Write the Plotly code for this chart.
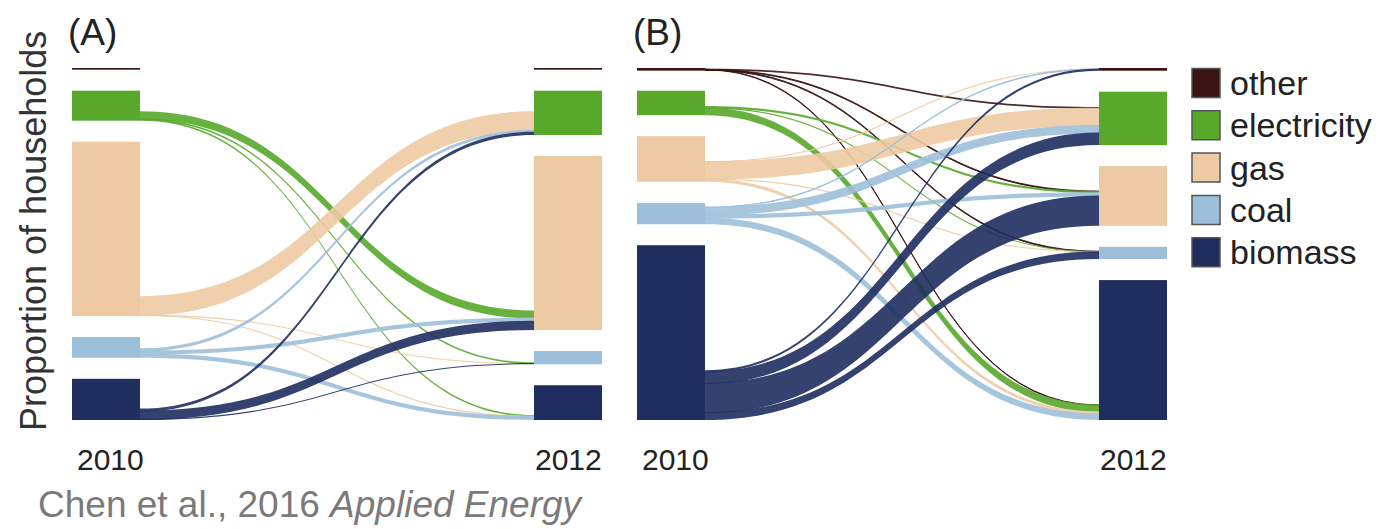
import plotly.graph_objects as go

fuels = ["other", "electricity", "gas", "coal", "biomass"]
colors = ["#3b1414", "#58a82c", "#edcaa3", "#9dc0da", "#1f2d5f"]
years = ["2010", "2012"]
panels = ["(A)", "(B)"]

# share of households (%) moving from the 2010 fuel (row) to the 2012 fuel (column)
flows_a = [
    [0.6, 0.0, 0.0, 0.0, 0.0],
    [0.0, 7.7, 2.9, 0.6, 0.6],
    [0.0, 7.0, 55.6, 0.4, 0.4],
    [0.0, 1.1, 1.5, 4.4, 1.5],
    [0.0, 1.1, 3.3, 0.4, 11.0],
]
flows_b = [
    [0.6, 0.6, 0.3, 0.3, 0.2],
    [0.0, 5.7, 0.8, 0.4, 2.7],
    [0.4, 6.4, 9.1, 0.4, 1.1],
    [0.2, 3.0, 1.5, 1.9, 2.3],
    [0.8, 4.4, 10.6, 2.7, 44.1],
]

W, H = 1397, 529
FONT = "Liberation Sans, Arial, sans-serif"
PLOT_TOP, PLOT_BOT = 68, 420
PANEL_W = 530
THICK = 68
GAP = 21
OVERLAP = 1.0  # px, hides hairline seams between pieces of one bar


def rgba(hex_col, a):
    h = hex_col.lstrip("#")
    r, g, b = int(h[0:2], 16), int(h[2:4], 16), int(h[4:6], 16)
    return f"rgba({r},{g},{b},{a})"


def make_sankey(flows, left_px):
    n = len(fuels)
    links = [(i, j) for i in range(n) for j in range(n) if flows[i][j] > 0]
    L = len(links)
    hpx = PLOT_BOT - PLOT_TOP
    total = sum(flows[a][b] for a, b in links)

    groups = []
    for side in (0, 1):
        g = []
        for f in range(n):
            mine = [lk for lk in links if lk[side] == f]
            # households keeping the fuel on top, then the switchers
            mine.sort(key=lambda lk: (lk[0] != lk[1], lk[1 - side]))
            g.append(mine)
        groups.append(g)
    seams = min(sum(max(len(m) - 1, 0) for m in g) for g in groups)
    ky = (hpx - (n - 1) * GAP + seams * OVERLAP) / total
    pad = (hpx - ky * total) / (L - 1)

    def stack(g):
        pos = {}
        top = 0
        for mine in g:
            for m, lk in enumerate(mine):
                h = flows[lk[0]][lk[1]] * ky
                if m > 0:
                    top -= OVERLAP
                pos[lk] = (top + h / 2) / hpx
                top += h
            top += GAP
        return pos

    ypos_src = stack(groups[0])
    ypos_tgt = stack(groups[1])

    xs, ys, ncol, src, tgt, val, lcol = [], [], [], [], [], [], []
    for k, (a, b) in enumerate(links):
        xs.append(THICK / 2 / PANEL_W)
        ys.append(ypos_src[(a, b)])
        ncol.append(colors[a])
    for k, (a, b) in enumerate(links):
        xs.append(1 - THICK / 2 / PANEL_W)
        ys.append(ypos_tgt[(a, b)])
        ncol.append(colors[b])
    for k, (a, b) in enumerate(links):
        src.append(k)
        tgt.append(L + k)
        val.append(flows[a][b])
        # households that kept the same fuel are not drawn as flows
        lcol.append("rgba(0,0,0,0)" if a == b else rgba(colors[a], 0.9))

    return go.Sankey(
        arrangement="fixed",
        domain=dict(x=[left_px / W, (left_px + PANEL_W) / W],
                    y=[1 - PLOT_BOT / H, 1 - PLOT_TOP / H]),
        node=dict(label=[""] * (2 * L), color=ncol, x=xs, y=ys,
                  pad=pad, thickness=THICK, line=dict(width=0)),
        link=dict(source=src, target=tgt, value=val, color=lcol),
        hoverinfo="none",
    )


fig = go.Figure()
fig.add_trace(make_sankey(flows_a, 72))
fig.add_trace(make_sankey(flows_b, 637))

ann = []
for k, left in enumerate([72, 637]):
    ann.append(dict(x=(left - 6) / W, y=1 - 32 / H, text=panels[k], showarrow=False,
                    xanchor="left", yanchor="middle", font=dict(size=37, color="#222")))
    for m, cx in enumerate([left + THICK / 2 + 4, left + PANEL_W - THICK / 2]):
        ann.append(dict(x=cx / W, y=1 - 459 / H, text=years[m], showarrow=False,
                        xanchor="center", yanchor="middle", font=dict(size=30, color="#222")))

ann.append(dict(x=34 / W, y=1 - 231 / H, text="Proportion of households", textangle=-90,
                showarrow=False, xanchor="center", yanchor="middle",
                font=dict(size=36, color="#333")))
ann.append(dict(x=36 / W, y=1 - 504 / H, text="Chen et al., 2016 <i>Applied Energy</i>",
                showarrow=False, xanchor="left", yanchor="middle",
                font=dict(size=37, color="#7a7a7a")))

shapes = []
for k, name in enumerate(fuels):
    cy = 83 + k * 42.3
    shapes.append(dict(type="rect", xref="paper", yref="paper",
                       x0=1192 / W, x1=1220 / W, y0=1 - (cy - 14.5) / H, y1=1 - (cy + 14.5) / H,
                       fillcolor=colors[k], line=dict(color="#555", width=1.5)))
    ann.append(dict(x=1228 / W, y=1 - cy / H, text=name, showarrow=False,
                    xanchor="left", yanchor="middle", font=dict(size=34, color="#222")))

fig.update_layout(
    width=W, height=H,
    margin=dict(l=0, r=0, t=0, b=0),
    paper_bgcolor="white",
    font=dict(family=FONT),
    annotations=ann,
    shapes=shapes,
)

fig.write_html("out.html", config={"displayModeBar": False},
               post_script="document.body.style.margin = '0';")
